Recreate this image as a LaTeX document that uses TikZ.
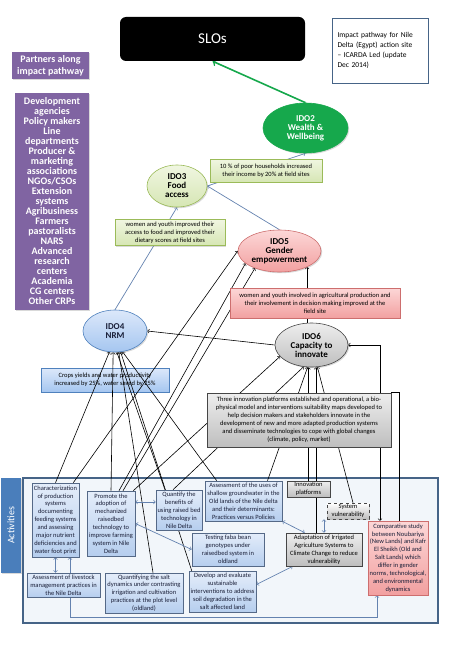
\documentclass[tikz,border=0pt]{standalone}
\usepackage{fontspec}
\setmainfont{Carlito}
\usetikzlibrary{shapes.geometric,shadows}
\pgfdeclarelayer{back}
\pgfdeclarelayer{wires}
\pgfsetlayers{back,wires,main}
\definecolor{purp}{RGB}{128,100,162}
\definecolor{wealth}{RGB}{22,168,76}
\definecolor{grnline}{RGB}{155,187,89}
\definecolor{grntop}{RGB}{240,246,225}
\definecolor{grnbot}{RGB}{214,230,180}
\definecolor{pinkline}{RGB}{205,110,110}
\definecolor{pinktop}{RGB}{252,215,215}
\definecolor{pinkbot}{RGB}{242,160,160}
\definecolor{greyline}{RGB}{70,70,70}
\definecolor{greytop}{RGB}{238,238,238}
\definecolor{greybot}{RGB}{190,190,190}
\definecolor{blueline}{RGB}{79,129,189}
\definecolor{bluetop}{RGB}{220,232,250}
\definecolor{bluebot}{RGB}{165,198,240}
\definecolor{actline}{RGB}{85,105,135}
\definecolor{acttop}{RGB}{228,237,250}
\definecolor{actbot}{RGB}{182,206,238}
\definecolor{actink}{RGB}{25,30,55}
\definecolor{framefill}{RGB}{242,246,250}
\definecolor{frameline}{RGB}{70,100,135}
\definecolor{tab}{RGB}{74,126,187}
\definecolor{arrowblue}{RGB}{100,130,175}
\begin{document}
\begin{tikzpicture}[
x=1pt,y=-1pt,
>=to,
small/.style={font=\fontsize{6.5}{7.9}\selectfont},
shadowed/.style={drop shadow={shadow xshift=1.2pt,shadow yshift=-1.2pt,opacity=0.3}},
thing/.style={rectangle,draw,line width=0.6pt,small,align=center,inner sep=1pt,shadowed},
act/.style={thing,draw=actline,top color=acttop,bottom color=actbot,text=actink},
greybox/.style={thing,draw=greyline,top color=greytop,bottom color=greybot,text=black},
ido/.style={ellipse,draw,line width=0.6pt,inner sep=0pt,align=center,shadowed,font=\fontsize{9}{9}\selectfont\bfseries},
partner/.style={rectangle,fill=purp,text=white,align=center,shadowed,font=\fontsize{10}{10}\selectfont\bfseries},
line/.style={draw,line width=0.6pt,->},
line2/.style={draw,arrowblue,line width=0.7pt,->},
both/.style={draw,arrowblue,line width=0.7pt,<->}
]
\useasboundingbox (0,0) rectangle (450,650);

\begin{pgfonlayer}{back}
\node[rectangle,draw=frameline,line width=1.2pt,fill=framefill,minimum width=415,minimum height=145] (frame) at (230.5,550.5) {};
\node[thing,draw=blueline,top color=bluetop,bottom color=bluebot,minimum width=128,minimum height=24] (crops) at (105,380) {Crops yields and water productivity\\increased by 25\%, water saved by 25\%};
\end{pgfonlayer}

\node[rectangle,rounded corners=6,fill=black,text=white,minimum width=185,minimum height=44,font=\fontsize{15}{15}\selectfont] (slo) at (212.5,39) {SLOs};
\node[rectangle,draw=frameline,line width=0.9pt,fill=white,text width=86,minimum height=65,inner sep=5,align=left,font=\fontsize{7.5}{10}\selectfont] (title) at (380.5,50.5) {Impact pathway for Nile\\Delta (Egypt) action site\\– ICARDA Led (update\\Dec 2014)};
\node[partner,minimum width=77,minimum height=27,font=\fontsize{10}{12}\selectfont\bfseries] (partners) at (50.5,65.5) {Partners along\\impact pathway};
\node[partner,minimum width=74,minimum height=217] (list) at (52,201.5) {Development\\agencies\\Policy makers\\Line\\departments\\Producer \&\\marketing\\associations\\NGOs/CSOs\\Extension\\systems\\Agribusiness\\Farmers\\pastoralists\\NARS\\Advanced\\research\\centers\\Academia\\CG centers\\Other CRPs};

\node[ido,fill=wealth,draw=wealth,text=white,minimum width=85,minimum height=50] (ido2) at (305.5,128) {IDO2\\Wealth \&\\Wellbeing};
\node[ido,draw=grnline,top color=grntop,bottom color=grnbot,minimum width=60,minimum height=42] (ido3) at (177,186) {IDO3\\Food\\access};
\node[ido,draw=pinkline,top color=pinktop,bottom color=pinkbot,minimum width=83,minimum height=42] (ido5) at (279.5,251) {IDO5\\Gender\\empowerment};
\node[ido,draw=blueline,top color=bluetop,bottom color=bluebot,text=actink,minimum width=64,minimum height=42] (ido4) at (115,331) {IDO4\\NRM};
\node[ido,draw=greyline,top color=greytop,bottom color=greybot,minimum width=73,minimum height=44] (ido6) at (311.5,345) {IDO6\\Capacity to\\innovate};

\node[thing,draw=grnline,top color=grntop,bottom color=grnbot,minimum width=112,minimum height=23] (income) at (266,170.5) {10 \% of poor households increased\\their income by 20\% at field sites};
\node[thing,draw=grnline,top color=grntop,bottom color=grnbot,minimum width=110,minimum height=26] (food) at (170,232.5) {women and youth improved their\\access to food  and  improved their\\dietary scores at field sites};
\node[thing,draw=pinkline,top color=pinktop,bottom color=pinkbot,minimum width=170,minimum height=30] (gender) at (315,303) {women and youth involved in agricultural production and\\their involvement in decision making improved at  the\\field site};
\node[greybox,minimum width=184,minimum height=54] (platforms) at (299,420) {Three  innovation platforms established and operational, a bio-\\physical model and interventions suitability maps developed to\\help decision makers and stakeholders innovate in the\\development of new and more adapted production systems\\and disseminate technologies to cope with global changes\\(climate, policy, market)};

\node[rectangle,fill=tab,text=white,minimum width=95,minimum height=20,rotate=90,shadowed,font=\fontsize{10}{10}\selectfont] (tab) at (11,525.5) {Activities};
\node[act,minimum width=47,minimum height=74] (a1) at (55.5,520) {Characterization\\of production\\systems\\documenting\\feeding systems\\and assessing\\major nutrient\\deficiencies and\\water foot print};
\node[act,minimum width=48,minimum height=65] (a2) at (111,523.5) {Promote the\\adoption of\\mechanized\\raisedbed\\technology to\\improve farming\\system in Nile\\Delta};
\node[act,minimum width=46,minimum height=40] (a3) at (179,510) {Quantify the\\benefits of\\using raised bed\\technology in\\Nile Delta};
\node[act,minimum width=77,minimum height=40] (a4) at (243.5,501) {Assessment of the uses of\\shallow groundwater in the\\Old lands of the Nile delta\\and their determinants:\\Practices versus Policies};
\node[greybox,minimum width=43,minimum height=16] (a5) at (308.5,489) {Innovation\\platforms};
\node[greybox,dashed,top color=white,minimum width=42,minimum height=16] (a6) at (348,511) {System\\vulnerability};
\node[act,minimum width=72,minimum height=33] (a7) at (228,549.5) {Testing faba bean\\genotypes under\\raisedbed system in\\oldland};
\node[greybox,minimum width=76,minimum height=33] (a8) at (324,549.5) {Adaptation of Irrigated\\Agriculture Systems to\\Climate Change to reduce\\vulnerability};
\node[thing,draw=pinkline,top color=pinktop,bottom color=pinkbot,text=actink,minimum width=60,minimum height=74] (a9) at (398,558) {Comparative study\\between Noubariya\\(New Lands) and Kafr\\El Sheikh (Old and\\Salt Lands) which\\differ in gender\\norms, technological,\\and environmental\\dynamics};
\node[act,minimum width=73,minimum height=24] (a10) at (63.5,585) {Assessment of  livestock\\management practices in\\the Nile Delta};
\node[act,minimum width=78,minimum height=40] (a11) at (144,593) {Quantifying the salt\\dynamics under contrasting\\irrigation and cultivation\\practices at the plot level\\(oldland)};
\node[act,minimum width=67,minimum height=41] (a12) at (222.5,591.5) {Develop and evaluate\\sustainable\\interventions to address\\soil degradation in the\\salt affected land};

\begin{pgfonlayer}{wires}
\path[draw,wealth,line width=1.6pt,->] (ido2.north) -- (slo.south);
\path[line2] (ido3.east) -- (ido2.south);
\path[line2] (ido5.north) -- (ido3.east);
\path[line2] (ido4.north) -- (ido3.south);
\path[line] (ido6.west) -- (ido4.east);
\path[line] (ido6.north -| ido5.-30) -- (ido5.-30);
\path[line] (a1.north) -- (ido4.-105);
\path[line] (a2.north) -- (ido4.-95);
\path[line] ([xshift=-14]a3.north) -- (ido4.-85);
\path[line] ([xshift=9]a11.north) -- (ido4.-80);
\path[line] ([xshift=3]a12.north west) -- (ido4.-75);
\path[line] ([xshift=12]a4.north west) -- (ido4.-70);
\path[line] ([xshift=-6]a1.north east) -- (ido5.west);
\path[line] ([xshift=8]a2.north) -- (ido5.200);
\path[line] ([xshift=12]a2.north) -- (ido5.215);
\path[line] ([xshift=-2]a2.north east) -- (ido6.200);
\path[line] ([xshift=-6]a3.north) -- (ido6.250);
\path[line] ([xshift=24]a4.north) -- (ido6.260);
\path[line] (a5.north) -- (a5.north |- ido6.south);
\path[line] ([xshift=-8]a8.north) -- ([xshift=-8]a8.north |- ido6.south);
\path[line] ([xshift=5]a6.north) -- (ido6.285);
\path[line,<->] (ido6.east) -| ([xshift=-18]a9.north);
\path[draw,line width=0.6pt] ([xshift=1]a9.north) |- (platforms.north east);
\path[both] (a1.south) -- (a1.south |- a10.north);
\path[both] ([yshift=8]a3.west -| a2.east) -- ([yshift=8]a3.west);
\path[both] (a2.east) -- (a7.west);
\path[both] (a4.south east) -- ([xshift=19]a8.north west);
\path[both] ([yshift=7]a12.east) -- ([xshift=7]a8.south west);
\path[both] (a8.north) -- (a8.north |- a6.south);
\path[both] ([xshift=14.5]a1.south) -- ++(0,60) -| ([xshift=-21]a9.south);
\end{pgfonlayer}

\end{tikzpicture}
\end{document}
